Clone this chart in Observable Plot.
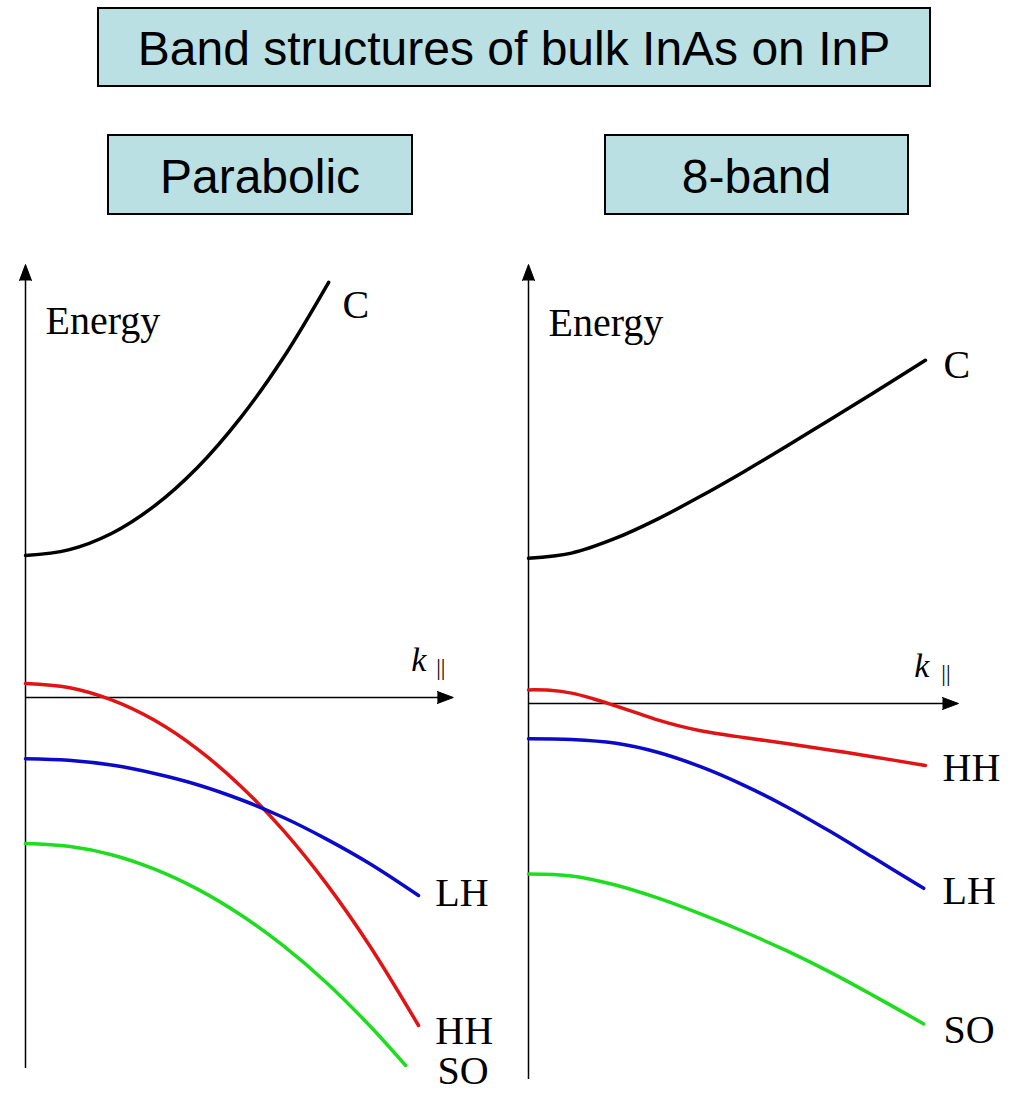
<!DOCTYPE html>
<html>
<head>
<meta charset="utf-8">
<script src="https://cdn.jsdelivr.net/npm/d3@7"></script>
<script src="https://cdn.jsdelivr.net/npm/@observablehq/plot@0.6"></script>
<style>
  html, body { margin: 0; padding: 0; background: #ffffff; }
  #page { position: relative; width: 1019px; height: 1097px; overflow: hidden; background: #ffffff; }
  .box {
    position: absolute; box-sizing: border-box; border: 2px solid #000;
    background: #bbe0e3; display: flex; align-items: center; justify-content: center;
    font-family: "Liberation Sans", Arial, sans-serif; font-size: 48px; color: #000;
    padding-top: 3px; white-space: nowrap;
  }
  .panel { position: absolute; }
</style>
</head>
<body>
<div id="page">
  <div class="box" id="title" style="left:97px; top:7px; width:834px; height:80px;"></div>
  <div class="box" id="sub1" style="left:107px; top:134px; width:306px; height:81px;"></div>
  <div class="box" id="sub2" style="left:604px; top:134px; width:305px; height:81px;"></div>
</div>
<script>
// ---------- texts ----------
const titleText = "Band structures of bulk InAs on InP";
const panelTitles = ["Parabolic", "8-band"];

// ---------- Parabolic panel (k in arbitrary units, energy in arbitrary units) ----------
const parC_k  = [0, 1, 2, 3, 4, 5, 6, 7.05];
const parC_e  = [3.55, 3.69, 4.10, 4.79, 5.75, 6.99, 8.50, 10.38];
const parHH_k = [0, 1, 2, 3, 4, 5, 6, 7, 8, 9.14];
const parHH_e = [0.35, 0.25, -0.06, -0.57, -1.29, -2.21, -3.33, -4.66, -6.20, -8.20];
const parLH_k = [0, 1, 2, 3, 4, 5, 6, 7, 8, 9.14];
const parLH_e = [-1.53, -1.57, -1.69, -1.90, -2.18, -2.55, -3.00, -3.54, -4.15, -4.95];
const parSO_k = [0, 1, 2, 3, 4, 5, 6, 7, 8, 8.84];
const parSO_e = [-3.65, -3.72, -3.93, -4.29, -4.79, -5.43, -6.21, -7.13, -8.20, -9.20];

// ---------- 8-band panel ----------
const kpC_k  = [0, 1, 2, 3, 4, 5, 6, 7, 8, 9.23];
const kpC_e  = [3.63, 3.76, 4.12, 4.61, 5.18, 5.79, 6.43, 7.09, 7.75, 8.58];
const kpHH_k = [0, 0.5, 1, 1.5, 2, 2.5, 3, 3.5, 4, 5, 6, 7, 8, 9.23];
const kpHH_e = [0.34, 0.33, 0.26, 0.12, -0.05, -0.23, -0.41, -0.56, -0.68, -0.85, -1.00, -1.16, -1.33, -1.55];
const kpLH_k = [0, 1, 2, 3, 4, 5, 6, 7, 8, 9.19];
const kpLH_e = [-0.88, -0.90, -0.99, -1.22, -1.58, -2.04, -2.58, -3.19, -3.84, -4.62];
const kpSO_k = [0, 1, 2, 3, 4, 5, 6, 7, 8, 9.19];
const kpSO_e = [-4.26, -4.31, -4.53, -4.86, -5.26, -5.70, -6.18, -6.71, -7.29, -8.01];

// ---------- band names and colours ----------
const bandNames  = ["C", "HH", "LH", "SO"];
const bandColors = ["#000000", "#e01414", "#0a0ac8", "#1edc1e"];

// ---------- labels: [text, k, energy] ----------
const parLabelText = ["Energy", "C", "LH", "HH", "SO"];
const parLabelK    = [0.465, 7.37, 9.53, 9.53, 9.58];
const parLabelE    = [9.42, 9.82, -4.88, -8.33, -9.35];
const kpLabelText  = ["Energy", "C", "HH", "LH", "SO"];
const kpLabelK     = [0.465, 9.65, 9.63, 9.63, 9.65];
const kpLabelE     = [9.52, 8.47, -1.605, -4.68, -8.155];

// axis label k|| : [k of "k", energy of "k", k of "||", energy of "||"]
const parAxisLabel = [8.97, 0.93, 9.55, 0.75];
const kpAxisLabel  = [8.97, 0.93, 9.60, 0.75];

// axis extents: [energy bottom, energy top, k right]
const parAxes = [-9.275, 10.825, 9.95];
const kpAxes  = [-9.4, 10.975, 10.0];

document.getElementById("title").textContent = titleText;
document.getElementById("sub1").textContent = panelTitles[0];
document.getElementById("sub2").textContent = panelTitles[1];

const zip = (ks, es) => ks.map((k, i) => ({k, e: es[i]}));

function panel(series, labelText, labelK, labelE, axisLabel, axes) {
  const labels = labelText.map((t, i) => ({t, k: labelK[i], e: labelE[i]}));
  const marks = [
    Plot.ruleX([0], {y1: axes[0], y2: axes[1] - 0.3, stroke: "#000", strokeWidth: 1.5}),
    Plot.ruleY([0], {x1: 0, x2: axes[2] - 0.3, stroke: "#000", strokeWidth: 1.5}),
    Plot.vector([{k: 0, e: axes[1]}], {x: "k", y: "e", rotate: 0, length: 16, r: 6,
      shape: "spike", anchor: "end", fill: "#000", stroke: "#000", strokeWidth: 1}),
    Plot.vector([{k: axes[2], e: 0}], {x: "k", y: "e", rotate: 90, length: 16, r: 6,
      shape: "spike", anchor: "end", fill: "#000", stroke: "#000", strokeWidth: 1}),
  ];
  series.forEach((s, i) => {
    marks.push(Plot.line(zip(s[0], s[1]), {x: "k", y: "e", stroke: bandColors[i],
      strokeWidth: 3.5, curve: "catmull-rom"}));
  });
  marks.push(Plot.text(labels, {x: "k", y: "e", text: "t", textAnchor: "start",
    lineAnchor: "middle", fontFamily: "Liberation Serif, Times New Roman, serif",
    fontSize: 40, fill: "#000"}));
  marks.push(Plot.text([{k: axisLabel[0], e: axisLabel[1]}], {x: "k", y: "e", text: () => "k",
    textAnchor: "start", lineAnchor: "middle", fontFamily: "Liberation Serif, Times New Roman, serif",
    fontStyle: "italic", fontSize: 34, fill: "#000"}));
  marks.push(Plot.text([{k: axisLabel[2], e: axisLabel[3]}], {x: "k", y: "e", text: () => "||",
    textAnchor: "start", lineAnchor: "middle", fontFamily: "Liberation Serif, Times New Roman, serif",
    fontSize: 23, fill: "#000"}));
  return Plot.plot({
    width: 515, height: 860,
    marginLeft: 25, marginRight: 60, marginTop: 0, marginBottom: 0,
    x: {domain: [0, 10], axis: null},
    y: {domain: [-10, 11.5], axis: null},
    style: {background: "transparent", overflow: "visible"},
    marks
  });
}

const left = panel(
  [[parC_k, parC_e], [parHH_k, parHH_e], [parLH_k, parLH_e], [parSO_k, parSO_e]],
  parLabelText, parLabelK, parLabelE, parAxisLabel, parAxes);
left.classList.add("panel");
left.style.left = "0px"; left.style.top = "237px";

const right = panel(
  [[kpC_k, kpC_e], [kpHH_k, kpHH_e], [kpLH_k, kpLH_e], [kpSO_k, kpSO_e]],
  kpLabelText, kpLabelK, kpLabelE, kpAxisLabel, kpAxes);
right.classList.add("panel");
right.style.left = "503px"; right.style.top = "243px";

const page = document.getElementById("page");
page.appendChild(left);
page.appendChild(right);
</script>
</body>
</html>
